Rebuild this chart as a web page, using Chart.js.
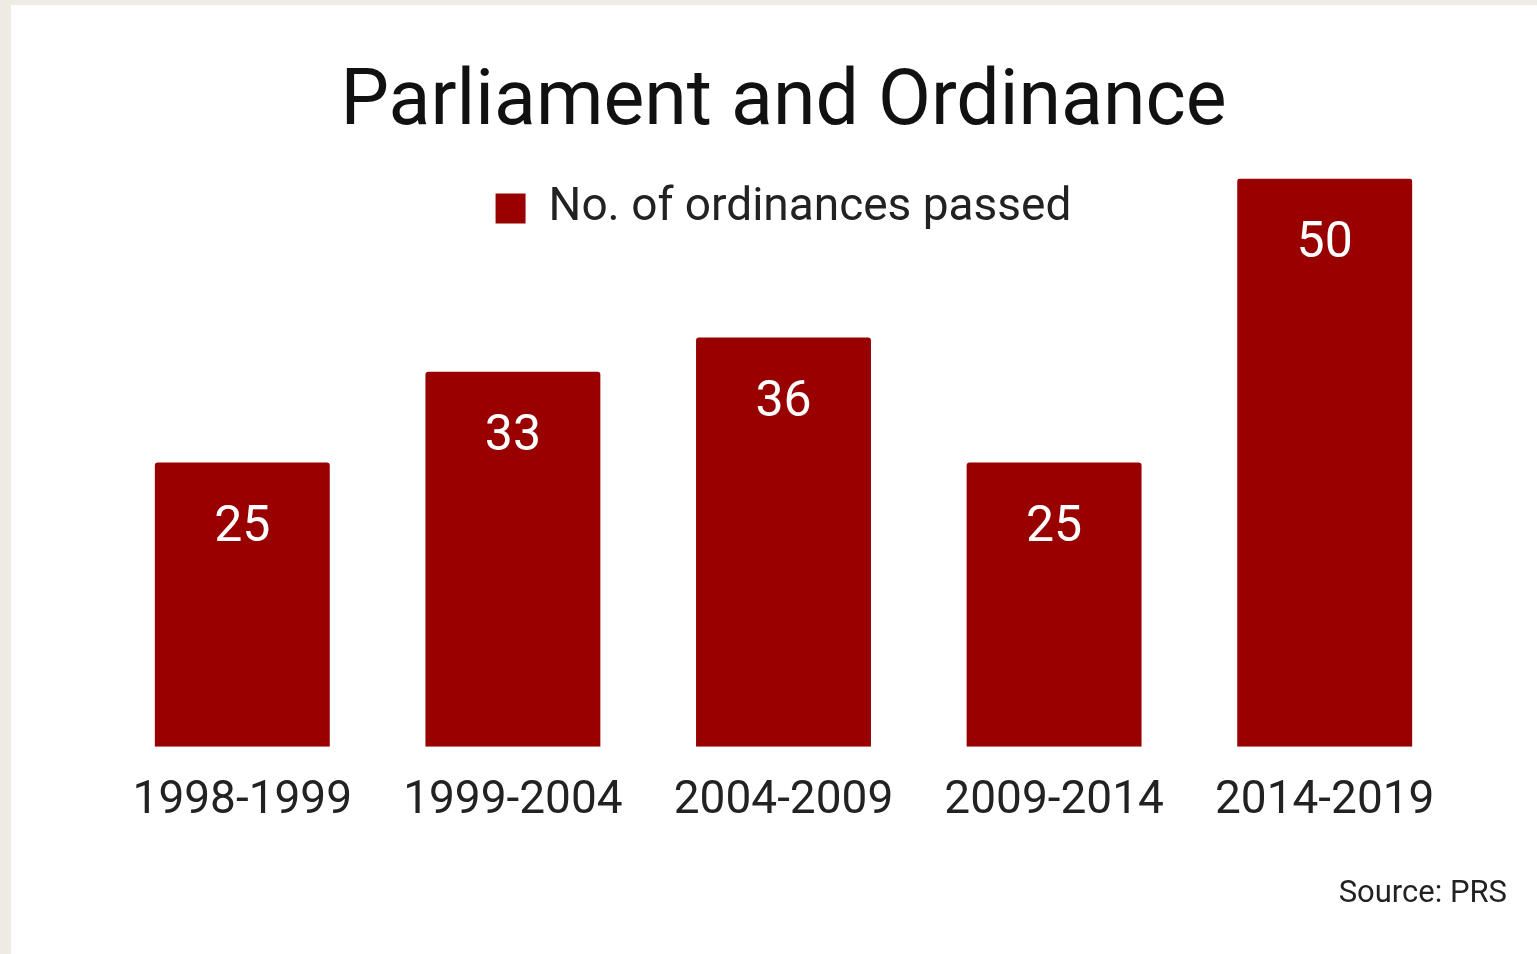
<!DOCTYPE html>
<html>
<head>
<meta charset="utf-8">
<script src="https://cdn.jsdelivr.net/npm/chart.js@4/dist/chart.umd.min.js"></script>
<style>
  html, body { margin: 0; padding: 0; background: #eeebe4; width: 1537px; height: 954px; overflow: hidden; }
  #panel { position: absolute; left: 11px; top: 5px; width: 1526px; height: 949px; background: #ffffff; }
  #wrap { position: absolute; left: 0; top: 0; width: 1537px; height: 954px; }
  #source { position: absolute; right: 30px; top: 873px; font-family: Roboto, sans-serif; font-size: 31px; color: #222; }
</style>
</head>
<body>
<div id="panel"></div>
<div id="wrap"><canvas id="c" width="1537" height="954"></canvas></div>
<div id="source">Source: PRS</div>
<script>
const categories = ['1998-1999', '1999-2004', '2004-2009', '2009-2014', '2014-2019'];
const ordinances = [25, 33, 36, 25, 50];
const seriesLabel = 'No. of ordinances passed';
const chartTitle = 'Parliament and Ordinance';
const barColor = '#990000';

// Let the legend sit over the plot area (as in the original) instead of pushing it down.
const overlapLegend = {
  id: 'overlapLegend',
  afterLayout(chart) {
    const top = chart.titleBlock.bottom;
    const area = chart.chartArea;
    area.top = top;
    area.height = area.bottom - top;
    const y = chart.scales.y;
    y.top = top;
    y.height = y.bottom - top;
    y.configure();
  }
};

const valueLabels = {
  id: 'valueLabels',
  afterDatasetsDraw(chart) {
    const ctx = chart.ctx;
    const meta = chart.getDatasetMeta(0);
    ctx.save();
    ctx.fillStyle = '#ffffff';
    ctx.font = '50px Roboto';
    ctx.textAlign = 'center';
    ctx.textBaseline = 'middle';
    meta.data.forEach((bar, i) => {
      ctx.fillText(String(chart.data.datasets[0].data[i]), bar.x, bar.y + 66);
    });
    ctx.restore();
  }
};

new Chart(document.getElementById('c'), {
  type: 'bar',
  data: {
    labels: categories,
    datasets: [{
      label: seriesLabel,
      data: ordinances,
      backgroundColor: barColor,
      borderRadius: 3,
      borderSkipped: 'bottom',
      barPercentage: 0.8,
      categoryPercentage: 0.808
    }]
  },
  options: {
    responsive: false,
    animation: false,
    devicePixelRatio: 1,
    layout: { padding: { left: 107, right: 77, top: 49, bottom: 98 } },
    scales: {
      x: {
        grid: { display: false, drawTicks: false },
        border: { display: false },
        ticks: { color: '#222', font: { family: 'Roboto', size: 46 }, padding: 27 }
      },
      y: {
        display: false,
        min: 0,
        max: 50
      }
    },
    plugins: {
      title: {
        display: true,
        text: chartTitle,
        color: '#111',
        font: { family: 'Roboto', size: 77, weight: 'normal' },
        padding: { top: 10, bottom: 27 }
      },
      legend: {
        position: 'top',
        align: 'center',
        labels: {
          color: '#222',
          font: { family: 'Roboto', size: 46 },
          boxWidth: 30,
          boxHeight: 30,
          padding: 7
        }
      },
      tooltip: { enabled: false }
    }
  },
  plugins: [overlapLegend, valueLabels]
});
</script>
</body>
</html>
